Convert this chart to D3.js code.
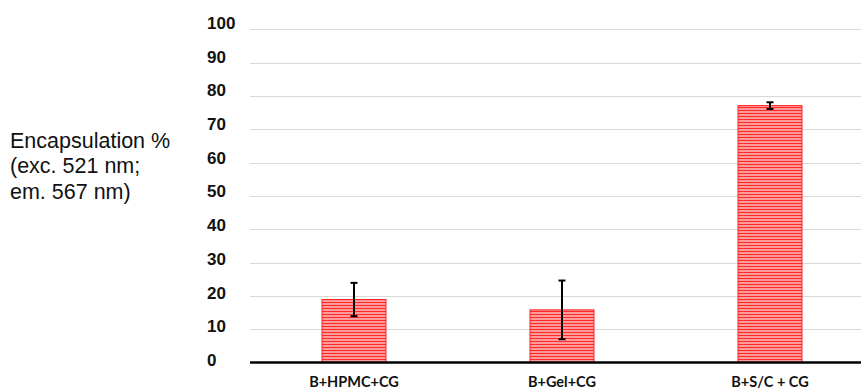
<!DOCTYPE html>
<html><head><meta charset="utf-8">
<script src="https://cdn.jsdelivr.net/npm/d3@7"></script>
<style>html,body{margin:0;padding:0;background:#fff;overflow:hidden}</style>
</head><body>
<script>
const categories = ["B+HPMC+CG", "B+Gel+CG", "B+S/C + CG"];
const values = [18.9, 15.8, 77.1];
const errors = [5.0, 8.8, 1.0];
const yTicks = [0,10,20,30,40,50,60,70,80,90,100];
const titleLines = ["Encapsulation %", "(exc. 521 nm;", "em. 567 nm)"];

const W = 861, H = 391;
const svg = d3.select("body").append("svg").attr("width", W).attr("height", H);

const defs = svg.append("defs");
const pat = defs.append("pattern").attr("id","stripes").attr("patternUnits","userSpaceOnUse")
  .attr("width", 6).attr("height", 3);
pat.append("rect").attr("width",6).attr("height",3).attr("fill","#ff9a9a");
pat.append("rect").attr("y",2).attr("width",6).attr("height",1).attr("fill","#ff2a2a");

const x = d3.scaleBand().domain(categories).range([250, 874]).paddingInner(0.6875).paddingOuter(0.34375);
const y = d3.scaleLinear().domain([0,100]).range([362.5, 29.3]);
const yLab = d3.scaleLinear().domain([0,100]).range([360, 22.7]);

// gridlines
svg.append("g").selectAll("line").data(yTicks.filter(d=>d>0)).join("line")
  .attr("x1",250).attr("x2",W).attr("y1",d=>Math.round(y(d))+0.5).attr("y2",d=>Math.round(y(d))+0.5)
  .attr("stroke","#d9d9d9").attr("stroke-width",1);

// tick labels
svg.append("g").selectAll("text").data(yTicks).join("text")
  .attr("x",207).attr("y",d=>yLab(d)).attr("dy","0.36em")
  .attr("font-family","'Liberation Sans', Arial, sans-serif").attr("font-weight","bold")
  .attr("font-size",17).attr("fill","#111").text(d=>d);

// bars
svg.append("g").selectAll("rect").data(values).join("rect")
  .attr("x",(d,i)=>x(categories[i])+0.5).attr("width",x.bandwidth()-1)
  .attr("y",d=>y(d)).attr("height",d=>y(0)-y(d))
  .attr("fill","url(#stripes)").attr("stroke","#ff2020").attr("stroke-width",1);

// error bars
const eg = svg.append("g").attr("stroke","#000").attr("stroke-width",2);
values.forEach((v,i)=>{
  const cx = x(categories[i]) + x.bandwidth()/2;
  eg.append("line").attr("x1",cx).attr("x2",cx).attr("y1",y(v+errors[i])).attr("y2",y(v-errors[i]));
  eg.append("line").attr("x1",cx-3.5).attr("x2",cx+3.5).attr("y1",y(v+errors[i])).attr("y2",y(v+errors[i]));
  eg.append("line").attr("x1",cx-3.5).attr("x2",cx+3.5).attr("y1",y(v-errors[i])).attr("y2",y(v-errors[i]));
});

// axis baseline
svg.append("line").attr("x1",250).attr("x2",W).attr("y1",y(0)).attr("y2",y(0))
  .attr("stroke","#000").attr("stroke-width",2.5);

// x labels
svg.append("g").selectAll("text").data(categories).join("text")
  .attr("x",d=>x(d)+x.bandwidth()/2).attr("y",387).attr("text-anchor","middle")
  .attr("font-family","Lato, 'Open Sans', sans-serif").attr("font-weight","bold")
  .attr("font-size",14.5).attr("fill","#111").text(d=>d);

// y title
svg.append("g").selectAll("text").data(titleLines).join("text")
  .attr("x",10).attr("y",(d,i)=>148+i*25.3)
  .attr("font-family","'Liberation Sans', Arial, sans-serif")
  .attr("font-size",21.5).attr("fill","#111").text(d=>d);
</script>
</body></html>
